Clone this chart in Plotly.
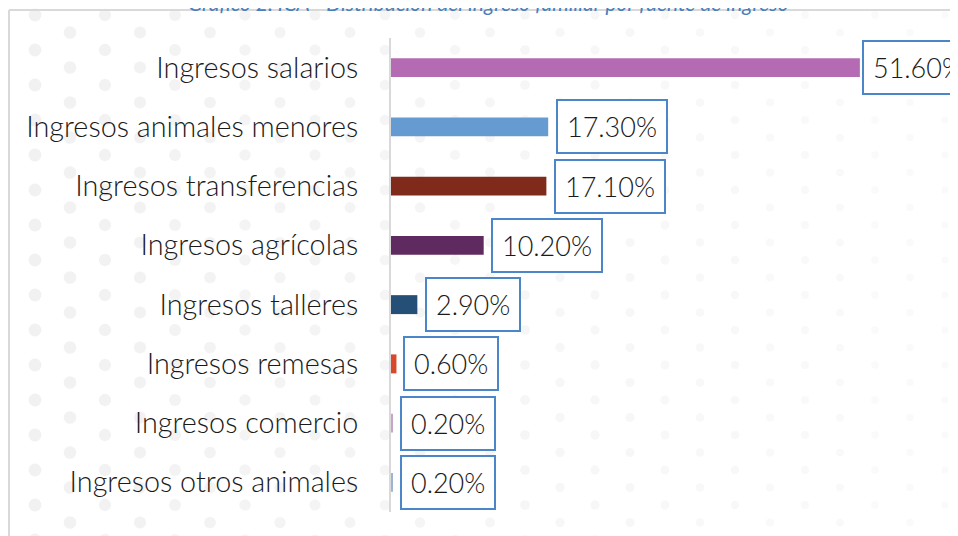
import numpy as np
import plotly.graph_objects as go

categories = ["Ingresos salarios", "Ingresos animales menores", "Ingresos transferencias",
              "Ingresos agrícolas", "Ingresos talleres", "Ingresos remesas",
              "Ingresos comercio", "Ingresos otros animales"]
values = [51.6, 17.3, 17.1, 10.2, 2.9, 0.6, 0.2, 0.2]
labels = ["51.60%", "17.30%", "17.10%", "10.20%", "2.90%", "0.60%", "0.20%", "0.20%"]
colors = ["#b46bb4", "#659bd0", "#7f2a1a", "#5f2a5f", "#264f78", "#d8482a", "#c9a3c9", "#9bb5d6"]
title = "Gráfico 2. ICA - Distribución del ingreso familiar por fuente de ingreso"

# page body has an 8px margin; the figure fills the rest of the 958x536 window
OFF = 8
VW, VH = 958, 536
W, H = VW - OFF, VH - OFF
FONT = "Lato"


def fx(x):
    return (x - OFF) / W


def fy(y):
    return 1 - (y - OFF) / H


fig = go.Figure()

# decorative dotted background (staggered grid)
dx, dy = [], []
rows = np.arange(-2.5, VH + 10, 17.5)
for i, yy in enumerate(rows):
    off = 35 if i % 2 == 1 else 0
    for xx in np.arange(off, VW + 40, 70):
        dx.append(xx)
        dy.append(yy)
dx = np.array(dx); dy = np.array(dy)
t = np.clip(dx / VW, 0, 1)
sizes = 13 - 6 * t
cols = [f"rgba(200,200,200,{0.36 - 0.24 * v:.3f})" for v in t]
fig.add_trace(go.Scatter(x=dx, y=dy, mode="markers", xaxis="x", yaxis="y",
                         marker=dict(size=sizes, color=cols, line=dict(width=0)),
                         hoverinfo="skip", showlegend=False, cliponaxis=True))

fig.add_trace(go.Bar(x=values, y=categories, orientation="h", xaxis="x2", yaxis="y2",
                     marker=dict(color=colors, line=dict(width=0)), width=0.32,
                     hoverinfo="skip", showlegend=False))

shifts = [2, 8, 8, 7, 8, 7, 7, 7]
for v, c, lab, s in zip(values, categories, labels, shifts):
    fig.add_annotation(x=v, y=c, xref="x2", yref="y2", text=lab, showarrow=False,
                       xanchor="left", xshift=s,
                       font=dict(family=FONT, size=27, color="#1a1a1a", weight=300),
                       bgcolor="white", bordercolor="#4a86c8", borderwidth=2, borderpad=9)

fig.add_annotation(x=fx(489), y=fy(2.5), xref="paper", yref="paper", text=f"<i>{title}</i>",
                   showarrow=False, xanchor="center", yanchor="middle",
                   font=dict(family=FONT, size=21, color="#4a7ebb"))

# frame lines
fig.add_shape(type="line", xref="x", yref="y", x0=9, x1=VW + 5, y0=10, y1=10,
              line=dict(color="#d9d9d9", width=2))
fig.add_shape(type="line", xref="x", yref="y", x0=9, x1=9, y0=10, y1=VH + 5,
              line=dict(color="#d9d9d9", width=2))

fig.update_layout(
    width=W, height=H, margin=dict(l=0, r=0, t=0, b=0),
    paper_bgcolor="white", plot_bgcolor="rgba(0,0,0,0)",
    xaxis=dict(domain=[0, 1], range=[OFF, VW], visible=False, fixedrange=True),
    yaxis=dict(domain=[0, 1], range=[VH, OFF], visible=False, fixedrange=True),
    xaxis2=dict(domain=[fx(391), 1], range=[0, 62.4], visible=False, anchor="y2"),
    yaxis2=dict(domain=[fy(512), fy(38)], anchor="x2", autorange="reversed",
                showline=True, linecolor="#d9d9d9", linewidth=2, showgrid=False,
                ticks="", ticklabelstandoff=25, automargin=False,
                tickfont=dict(family=FONT, size=28.8, color="#1a1a1a", weight=300)),
)

fig.write_html("out.html")
